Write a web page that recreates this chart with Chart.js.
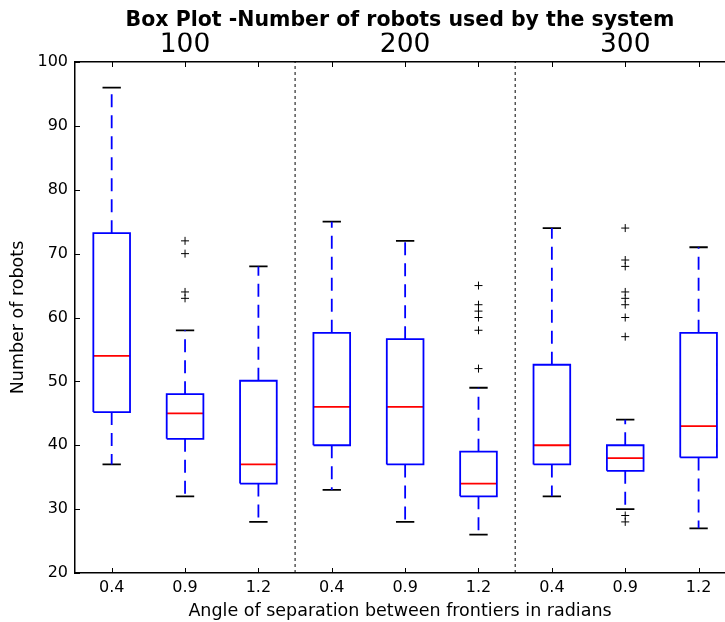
<!DOCTYPE html>
<html>
<head>
<meta charset="utf-8">
<script src="https://cdn.jsdelivr.net/npm/chart.js@4/dist/chart.umd.min.js"></script>
<style>
  html, body { margin: 0; padding: 0; background: #fff; }
</style>
</head>
<body>
<canvas id="boxChart" width="725" height="622"></canvas>
<script>
// angle of separation for each box, grouped by number of robots
const angles = ["0.4", "0.9", "1.2", "0.4", "0.9", "1.2", "0.4", "0.9", "1.2"];
const groups = ["100", "200", "300"];

// box statistics
const whiskerLow  = [37, 32, 28, 33, 28, 26, 32, 30, 27];
const quart1      = [45.2, 41, 34, 40, 37, 32, 37, 36, 38.1];
const medians     = [54, 45, 37, 46, 46, 34, 40, 38, 43];
const quart3      = [73.2, 48, 50.1, 57.6, 56.6, 39, 52.6, 40, 57.6];
const whiskerHigh = [96, 58, 68, 75, 72, 49, 74, 44, 71];
const outliers = [
  [],
  [72, 70, 64, 63],
  [],
  [],
  [],
  [65, 62, 61, 60, 58, 52],
  [],
  [74, 69, 68, 64, 63, 62, 60, 57, 29, 28],
  []
];
// group boundaries on the x axis
const separators = [3.5, 6.5];
const yTicks = [20, 30, 40, 50, 60, 70, 80, 90, 100];

const yMin = 20, yMax = 100;
const xMin = 0.5, xMax = 9.36;
const boxHalf = 0.25, capHalf = 0.125;

const boxPts = [], whiskPts = [], capPts = [], medPts = [], outPts = [], sepPts = [];
angles.forEach(function (a, i) {
  const p = i + 1;
  const gap = { x: p, y: null };
  boxPts.push({ x: p - boxHalf, y: quart1[i] }, { x: p + boxHalf, y: quart1[i] },
    { x: p + boxHalf, y: quart3[i] }, { x: p - boxHalf, y: quart3[i] },
    { x: p - boxHalf, y: quart1[i] }, gap);
  whiskPts.push({ x: p, y: quart3[i] }, { x: p, y: whiskerHigh[i] }, gap,
    { x: p, y: quart1[i] }, { x: p, y: whiskerLow[i] }, gap);
  capPts.push({ x: p - capHalf, y: whiskerHigh[i] }, { x: p + capHalf, y: whiskerHigh[i] }, gap,
    { x: p - capHalf, y: whiskerLow[i] }, { x: p + capHalf, y: whiskerLow[i] }, gap);
  medPts.push({ x: p - boxHalf, y: medians[i] }, { x: p + boxHalf, y: medians[i] }, gap);
  outliers[i].forEach(function (v) { outPts.push({ x: p, y: v }); });
});
separators.forEach(function (s) {
  sepPts.push({ x: s, y: yMin }, { x: s, y: yMax }, { x: s, y: null });
});

// matplotlib style ticks pointing into the plot
const innerTicks = {
  id: "innerTicks",
  afterDraw: function (chart) {
    const c = chart.ctx, area = chart.chartArea;
    const x = chart.scales.x, y = chart.scales.y;
    c.save();
    c.strokeStyle = "#000";
    c.lineWidth = 1;
    c.beginPath();
    angles.forEach(function (a, i) {
      const px = Math.round(x.getPixelForValue(i + 1)) + 0.5;
      c.moveTo(px, area.bottom); c.lineTo(px, area.bottom - 5);
      c.moveTo(px, area.top); c.lineTo(px, area.top + 5);
    });
    yTicks.forEach(function (v) {
      const py = Math.round(y.getPixelForValue(v)) + 0.5;
      c.moveTo(area.left, py); c.lineTo(area.left + 5, py);
    });
    c.stroke();
    c.restore();
  }
};

Chart.defaults.font.family = "'DejaVu Sans', sans-serif";
Chart.defaults.color = "#000";

const lineDs = function (data, color, width, dash) {
  return {
    data: data,
    showLine: true,
    borderColor: color,
    borderWidth: width,
    borderDash: dash || [],
    pointRadius: 0,
    spanGaps: false,
    fill: false,
    tension: 0
  };
};

new Chart(document.getElementById("boxChart"), {
  type: "scatter",
  data: {
    datasets: [
      lineDs(sepPts, "#000", 1, [3, 3]),
      lineDs(whiskPts, "#0000ff", 1.8, [13, 8]),
      lineDs(boxPts, "#0000ff", 1.8),
      lineDs(capPts, "#000", 1.8),
      lineDs(medPts, "#ff0000", 1.8),
      {
        data: outPts,
        showLine: false,
        pointStyle: "cross",
        pointRadius: 4,
        borderColor: "#000",
        borderWidth: 1,
        backgroundColor: "#000"
      }
    ]
  },
  options: {
    responsive: false,
    animation: false,
    events: [],
    layout: { padding: 0, autoPadding: false },
    plugins: {
      legend: { display: false },
      tooltip: { enabled: false },
      title: {
        display: true,
        fullSize: false,
        text: "Box Plot -Number of robots used by the system",
        font: { size: 20.5, weight: "bold" },
        color: "#000",
        padding: { top: 8, bottom: 0 }
      }
    },
    scales: {
      x: {
        type: "linear",
        position: "bottom",
        min: xMin,
        max: xMax,
        afterFit: function (s) { s.height = 49; },
        afterBuildTicks: function (s) {
          s.ticks = angles.map(function (a, i) { return { value: i + 1 }; });
        },
        ticks: {
          autoSkip: false,
          maxRotation: 0,
          padding: 5,
          font: { size: 16 },
          color: "#000",
          callback: function (v, i) { return angles[i]; }
        },
        grid: { display: false, drawTicks: false },
        border: { display: true, color: "#000", width: 1.5 },
        title: {
          display: true,
          text: "Angle of separation between frontiers in radians",
          font: { size: 17.5 },
          color: "#000",
          padding: { top: 0.5, bottom: 0.5 }
        }
      },
      xTop: {
        type: "linear",
        position: "top",
        min: xMin,
        max: xMax,
        afterFit: function (s) { s.height = 62 - 32.6; },
        afterBuildTicks: function (s) {
          s.ticks = groups.map(function (g, i) { return { value: 3 * i + 2 }; });
        },
        ticks: {
          autoSkip: false,
          maxRotation: 0,
          padding: 0.5,
          font: { size: 26.5 },
          color: "#000",
          callback: function (v, i) { return groups[i]; }
        },
        grid: { display: false, drawTicks: false },
        border: { display: true, color: "#000", width: 1.5 }
      },
      y: {
        type: "linear",
        min: yMin,
        max: yMax,
        afterFit: function (s) { s.width = 75; },
        afterBuildTicks: function (s) {
          s.ticks = yTicks.map(function (v) { return { value: v }; });
        },
        ticks: {
          padding: 7,
          font: { size: 16 },
          color: "#000"
        },
        grid: { display: false, drawTicks: false },
        border: { display: true, color: "#000", width: 1.5 },
        title: {
          display: true,
          text: "Number of robots",
          font: { size: 17.5 },
          color: "#000",
          padding: { top: 8, bottom: 8 }
        }
      }
    }
  },
  plugins: [innerTicks]
});
</script>
</body>
</html>
